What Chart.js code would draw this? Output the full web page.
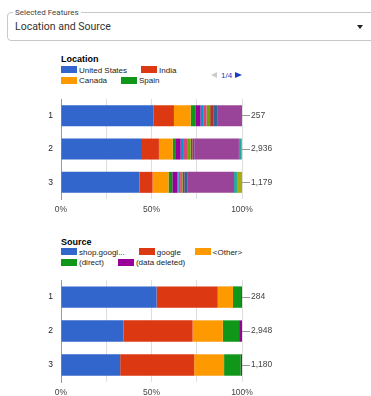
<!DOCTYPE html>
<html>
<head>
<meta charset="utf-8">
<script src="https://cdn.jsdelivr.net/npm/chart.js@4.4.0/dist/chart.umd.min.js"></script>
<style>
  body { margin: 0; width: 371px; height: 396px; overflow: hidden; background: #fff; position: relative; font-family: "Liberation Sans", Arial, sans-serif; }
  .box { position: absolute; left: 7px; top: 12px; width: 372px; height: 29px; border: 1px solid #c8c8c8; border-radius: 4px; box-sizing: border-box; }
  .box-label { position: absolute; left: 13px; top: 8px; padding: 0 2px; background: #fff; font: 8px Roboto; color: #444; line-height: 10px; }
  .box-value { position: absolute; left: 15px; top: 20px; font: 10.5px Roboto; color: #333; line-height: 14px; }
  .drop { position: absolute; left: 357px; top: 25px; border-left: 3.5px solid transparent; border-right: 3.5px solid transparent; border-top: 4px solid #222; }
  .title { position: absolute; left: 61px; font: bold 9px "Liberation Sans", Arial; color: #000; line-height: 10px; }
  .legend { position: absolute; left: 61px; font: 8px "Liberation Sans", Arial; color: #222; line-height: 10.7px; }
  .legend span { display: inline-block; margin-right: 14px; white-space: nowrap; }
  .legend i { display: inline-block; width: 16px; height: 7px; margin-right: 2px; vertical-align: -0.5px; }
  .pager { position: absolute; left: 211px; top: 72px; height: 8px; font: 8px "Liberation Sans", Arial; color: #1a3cc8; }
  .pager .l { position: absolute; left: 0; top: 0; border-top: 3.5px solid transparent; border-bottom: 3.5px solid transparent; border-right: 6px solid #ccc; }
  .pager .t { position: absolute; left: 10px; top: -1px; line-height: 9px; }
  .pager .r { position: absolute; left: 24px; top: 0; border-top: 3.5px solid transparent; border-bottom: 3.5px solid transparent; border-left: 7px solid #1a3cc8; }
  canvas { position: absolute; left: 0; }
</style>
</head>
<body>
<div class="box"></div>
<div class="box-label">Selected Features</div>
<div class="box-value">Location and Source</div>
<div class="drop"></div>

<div class="title" style="top:54px">Location</div>
<div class="legend" id="locLegend" style="top:65.5px;width:150px"></div>
<div class="pager"><div class="l"></div><div class="t">1/4</div><div class="r"></div></div>
<canvas id="locChart" width="371" height="135" style="top:86px"></canvas>

<div class="title" style="top:237px">Source</div>
<div class="legend" id="srcLegend" style="top:247.5px;width:200px"></div>
<canvas id="srcChart" width="371" height="137" style="top:267px"></canvas>

<script>
// categorie (righe) e palette
const rows = ['1', '2', '3'];
const palette = ['#3366cc', '#dc3912', '#ff9900', '#109618', '#990099', '#0099c6', '#dd4477',
                 '#66aa00', '#b82e2e', '#316395', '#994499', '#22aa99', '#aaaa11'];

// Location: quota % per serie, una voce per riga
const locationNames = ['United States', 'India', 'Canada', 'Spain', 'United Kingdom', 'Taiwan', 'Japan',
                       'France', 'Germany', 'Australia', '(other)', 'Singapore', '(not set)'];
const locationShares = [
    [51.0, 44.2, 43.3],
    [11.4, 9.9, 7.3],
    [9.2, 7.6, 8.8],
    [2.9, 1.4, 2.1],
    [2.6, 3.0, 2.7],
    [1.8, 1.8, 0.8],
    [1.5, 2.2, 1.2],
    [2.0, 1.5, 0.9],
    [2.0, 1.1, 1.0],
    [2.2, 0.9, 1.6],
    [13.4, 24.7, 25.9],
    [0, 1.2, 1.6],
    [0, 0.5, 2.8]
];
const locationTotals = ['257', '2,936', '1,179'];

// Source
const sourceNames = ['shop.googleplex.com', 'google', '<Other>', '(direct)', '(data deleted)'];
const sourceShares = [
    [52.8, 34.5, 32.7],
    [33.8, 38.2, 40.9],
    [8.4, 16.7, 16.5],
    [4.5, 9.0, 9.2],
    [0.5, 1.6, 0.7]
];
const sourceTotals = ['284', '2,948', '1,180'];

function shortName(n) {
    return n.length > 15 ? n.slice(0, 10) + '...' : n;
}

function buildLegend(id, names, count) {
    const el = document.getElementById(id);
    names.slice(0, count).forEach((n, i) => {
        const s = document.createElement('span');
        const box = document.createElement('i');
        box.style.background = palette[i];
        s.appendChild(box);
        s.appendChild(document.createTextNode(shortName(n)));
        el.appendChild(s);
    });
}

function drawChart(id, names, shares, totals) {
    const tickFont = { family: '"Liberation Sans", Arial', size: 8.5 };
    new Chart(document.getElementById(id), {
        type: 'bar',
        data: {
            labels: rows,
            datasets: names.map((n, i) => ({
                label: n,
                data: shares[i],
                backgroundColor: palette[i],
                barPercentage: 0.63,
                categoryPercentage: 1
            }))
        },
        options: {
            indexAxis: 'y',
            responsive: false,
            animation: false,
            devicePixelRatio: 1,
            layout: { padding: { top: 3, left: 0, right: 0, bottom: 0 } },
            plugins: { legend: { display: false }, tooltip: { enabled: false } },
            scales: {
                x: {
                    stacked: true,
                    min: 0,
                    max: 100,
                    ticks: {
                        stepSize: 25,
                        autoSkip: false,
                        maxRotation: 0,
                        padding: 6,
                        color: '#444',
                        font: tickFont,
                        callback: v => (v % 50 === 0 ? v + '%' : '')
                    },
                    grid: { drawTicks: false, color: ctx => (ctx.tick && ctx.tick.value === 0 ? '#999' : '#dedede') },
                    border: { display: false },
                    afterFit: s => { s.height = 22; }
                },
                y: {
                    stacked: true,
                    z: 1,
                    ticks: { padding: 8, color: '#222', font: tickFont },
                    grid: { display: false, drawTicks: false },
                    border: { display: true, color: '#999' },
                    afterFit: s => { s.width = 61; }
                },
                yr: {
                    type: 'category',
                    position: 'right',
                    labels: totals,
                    offset: true,
                    ticks: { padding: 1, color: '#444', font: tickFont },
                    grid: { display: true, drawOnChartArea: false, drawTicks: true, tickLength: 8, color: '#999', offset: false },
                    border: { display: false },
                    afterFit: s => { s.width = 129; }
                }
            }
        }
    });
}

buildLegend('locLegend', locationNames, 4);
buildLegend('srcLegend', sourceNames, sourceNames.length);
drawChart('locChart', locationNames, locationShares, locationTotals);
drawChart('srcChart', sourceNames, sourceShares, sourceTotals);
</script>
</body>
</html>
